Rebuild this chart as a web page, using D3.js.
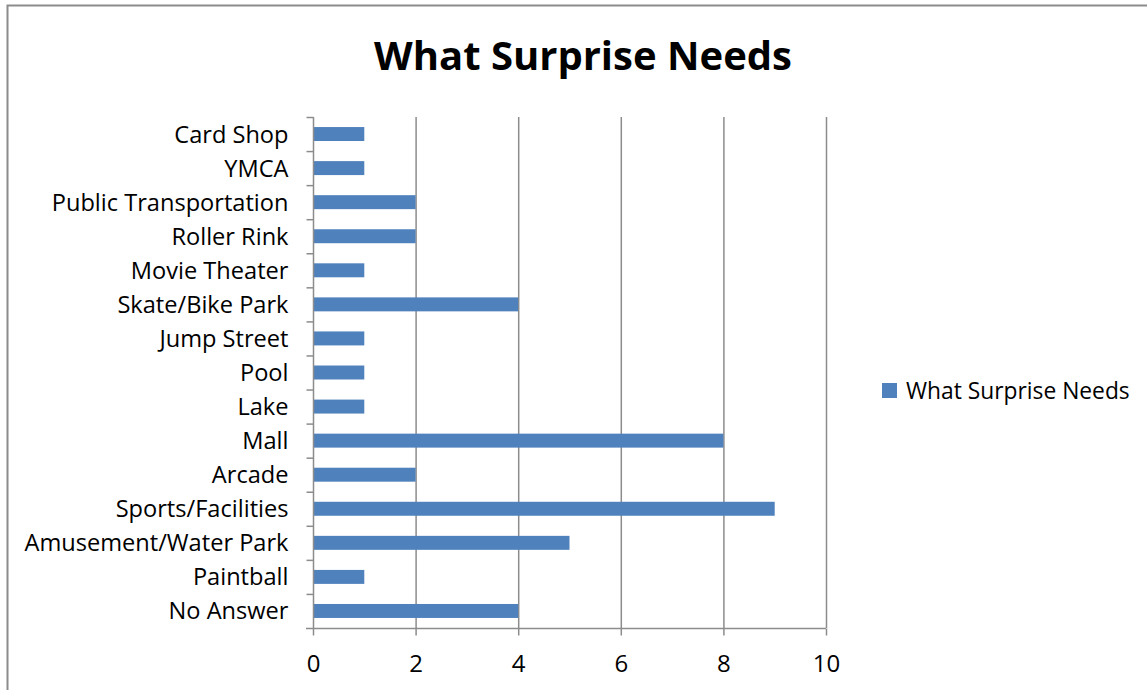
<!DOCTYPE html>
<html>
<head>
<meta charset="utf-8">
<script src="https://cdn.jsdelivr.net/npm/d3@7"></script>
<style>
  html, body { margin: 0; padding: 0; background: #fff; }
  svg { display: block; }
  text { font-family: "Open Sans", Lato, sans-serif; fill: #000; }
</style>
</head>
<body>
<svg id="chart" width="1147" height="690"></svg>
<script>
// Survey answers: what the town of Surprise needs
const categories = [
  "Card Shop", "YMCA", "Public Transportation", "Roller Rink", "Movie Theater",
  "Skate/Bike Park", "Jump Street", "Pool", "Lake", "Mall", "Arcade",
  "Sports/Facilities", "Amusement/Water Park", "Paintball", "No Answer"
];
const counts = [1, 1, 2, 2, 1, 4, 1, 1, 1, 8, 2, 9, 5, 1, 4];
const xTicks = [0, 2, 4, 6, 8, 10];
const seriesName = "What Surprise Needs";
const chartTitle = "What Surprise Needs";

const svg = d3.select("#chart");
const W = 1147, H = 690;
const plot = { left: 313, right: 826, top: 117, bottom: 628 };
const gridColor = "#8c8c8c";

// outer chart frame
svg.append("rect")
  .attr("x", 7.5).attr("y", 5.5)
  .attr("width", W + 10).attr("height", H + 10)
  .attr("fill", "#fff").attr("stroke", "#8c8c8c").attr("stroke-width", 2);

const x = d3.scaleLinear().domain([0, 10]).range([plot.left, plot.right]);
const yBand = d3.scaleBand().domain(categories).range([plot.top, plot.bottom]);
const y = d3.scaleBand().domain(categories).range([plot.top, plot.bottom]).paddingInner(0.59).paddingOuter(0.295);

// vertical gridlines
svg.append("g")
  .selectAll("line")
  .data(xTicks.filter(t => t > 0))
  .join("line")
  .attr("x1", d => x(d) + 0.5).attr("x2", d => x(d) + 0.5)
  .attr("y1", plot.top).attr("y2", plot.bottom)
  .attr("stroke", gridColor).attr("stroke-width", 1.5);

// bars
svg.append("g")
  .selectAll("rect")
  .data(categories.map((c, i) => ({ c, v: counts[i] })))
  .join("rect")
  .attr("x", x(0))
  .attr("y", d => y(d.c))
  .attr("width", d => x(d.v) - x(0))
  .attr("height", y.bandwidth())
  .attr("fill", "#4F81BD");

// x axis
const xAxis = svg.append("g")
  .attr("transform", `translate(0,${plot.bottom + 0.5})`)
  .call(d3.axisBottom(x).tickValues(xTicks).tickSize(7).tickPadding(19).tickFormat(d3.format("d")));
xAxis.select(".domain").attr("stroke", gridColor).attr("stroke-width", 1.5).attr("d", `M${plot.left - 7},0H${plot.right}`);
xAxis.selectAll(".tick line").attr("stroke", gridColor).attr("stroke-width", 1.5);
xAxis.selectAll(".tick text").style("font-size", "24px").style("font-family", "'Open Sans', sans-serif").attr("fill", "#000");

// y axis with tick marks at band edges
const yAxis = svg.append("g").attr("transform", `translate(${plot.left + 0.5},0)`);
yAxis.append("line")
  .attr("x1", 0).attr("x2", 0).attr("y1", plot.top).attr("y2", plot.bottom)
  .attr("stroke", gridColor).attr("stroke-width", 1.5);
const edges = categories.map(c => yBand(c));
yAxis.selectAll("line.edge")
  .data(edges)
  .join("line")
  .attr("class", "edge")
  .attr("x1", -7).attr("x2", 0)
  .attr("y1", d => d + 0.5).attr("y2", d => d + 0.5)
  .attr("stroke", gridColor).attr("stroke-width", 1.5);
yAxis.selectAll("text")
  .data(categories)
  .join("text")
  .attr("x", -25)
  .attr("y", d => yBand(d) + yBand.bandwidth() / 2)
  .attr("dy", "0.36em")
  .attr("text-anchor", "end")
  .style("font-size", "23.6px")
  .text(d => d);

// title
svg.append("text")
  .attr("x", 583).attr("y", 70)
  .attr("text-anchor", "middle")
  .style("font-size", "40px").style("font-weight", "bold")
  .text(chartTitle);

// legend
const legend = svg.append("g").attr("transform", "translate(882,383)");
legend.append("rect").attr("width", 15).attr("height", 15).attr("fill", "#4F81BD");
legend.append("text").attr("x", 24).attr("y", 15.5)
  .style("font-size", "22.8px").text(seriesName);
</script>
</body>
</html>
